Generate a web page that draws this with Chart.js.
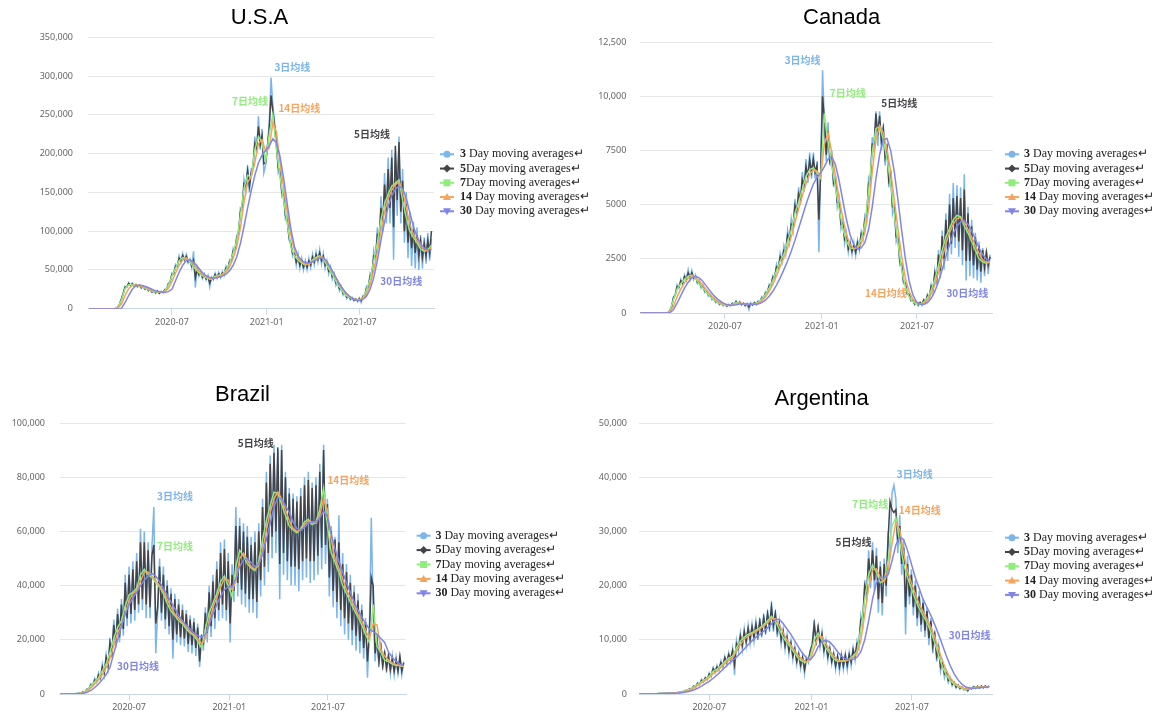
<!DOCTYPE html>
<html>
<head>
<meta charset="utf-8">
<title>Moving averages</title>
<script src="https://cdn.jsdelivr.net/npm/chart.js@4.4.1/dist/chart.umd.min.js"></script>
<style>
  body { margin: 0; background: #fff; width: 1164px; height: 716px; overflow: hidden; position: relative; }
  canvas { position: absolute; }
</style>
</head>
<body>
<canvas id="usa" width="590" height="345" style="left:0;top:0"></canvas>
<canvas id="canada" width="574" height="345" style="left:590px;top:0"></canvas>
<canvas id="brazil" width="590" height="371" style="left:0;top:345px"></canvas>
<canvas id="argentina" width="574" height="371" style="left:590px;top:345px"></canvas>
<script>
// x axis: days counted from 2020-01-22
const xTickDays = [161, 345, 526];
const xTickLabels = ["2020-07", "2021-01", "2021-07"];

const seriesNumbers = ["3", "5", "7", "14", "30"];
const seriesTexts = [" Day moving averages\u21b5", "Day moving averages\u21b5", "Day moving averages\u21b5", " Day moving averages\u21b5", " Day moving averages\u21b5"];
const noteTexts = ["3日均线", "5日均线", "7日均线", "14日均线", "30日均线"];
const seriesColors = ["#7cb5ec", "#434348", "#90ed7d", "#f7a35c", "#8085e9"];

// 3 and 5 day series every 3.5 days, 7/14/30 day series every 7 days
const usaStart = 0;
const usaYTicks = [0, 50000, 100000, 150000, 200000, 250000, 300000, 350000];
const usaYLabels = ["0", "50,000", "100,000", "150,000", "200,000", "250,000", "300,000", "350,000"];
const usaMa3 = [0,0,0,0,0,0,0,0,0,0,0,0,0,0,0,
  500,2500,6500,13000,20000,29000,27500,33500,30000,33000,29000,31500,28000,30500,26500,29000,
  25000,27000,23000,25000,21000,23500,20000,23000,19500,22500,
  20500,25000,24500,33000,34000,46000,44500,57000,54000,68000,
  60000,71000,62000,70000,59000,64000,53000,74000,27000,53000,
  42000,48000,39000,45000,37000,43000,28000,41000,37000,46000,
  39000,47000,40000,48000,43000,55000,50000,63000,60000,78000,
  74000,95000,96000,130000,128000,167000,152000,185000,150000,180000,
  180000,222000,200000,248000,205000,232000,175000,185000,210000,240000,
  298000,262000,240000,215000,175000,180000,145000,150000,115000,118000,
  88000,86000,68000,74000,56000,70000,52000,65000,50000,62000,
  50000,65000,53000,70000,57000,73000,60000,76000,58000,71000,
  52000,62000,45000,54000,38000,45000,30000,35000,23000,28500,
  17500,21000,13000,17000,11500,14500,10000,13000,9000,14000,
  8000,17000,16000,29000,26000,46000,42000,75000,62000,105000,
  78000,145000,100000,175000,110000,195000,110000,205000,63000,200000,
  120000,222000,110000,180000,85000,150000,65000,125000,55000,112000,
  52000,105000,50000,95000,52000,92000,58000,98000,62000,90000];
const usaMa5 = [0,0,0,0,0,0,0,0,0,0,0,0,0,0,0,
  300,2000,6000,12500,19500,27500,28500,32500,30500,32000,29500,31000,28500,30000,27000,28500,
  25500,26500,23500,24500,21500,23000,20500,22500,20000,22000,
  21000,24000,25500,31500,35000,44000,45500,55000,55500,65000,
  62000,68500,63500,67500,60500,62000,55000,62000,40000,51000,
  44000,46000,40500,43000,38500,41000,33000,39500,38500,44000,
  41000,45000,41500,46000,45000,52500,52000,60500,62500,75000,
  77000,91000,100000,125000,133000,161000,158000,178000,158000,175000,
  184000,213000,207000,235000,212000,223000,187000,188000,209000,232000,
  275000,255000,235000,210000,182000,175000,150000,145000,120000,114000,
  92000,83000,71000,71000,60000,66000,56000,62000,53500,59000,
  53500,61500,56500,66500,60500,69500,63500,72000,62000,67500,
  56000,59000,48500,51000,41000,42500,33000,33000,25500,27000,
  19500,19500,15000,16000,12700,13700,11000,12300,10300,13000,
  10500,15500,17500,26500,28500,42000,46000,68000,67000,95000,
  90000,130000,112000,160000,125000,180000,130000,195000,105000,210000,
  140000,215000,125000,165000,100000,135000,85000,112000,78000,102000,
  72000,95000,68000,87000,66000,84000,68000,88000,72000,100000];
const usaMa7 = [0,0,0,0,0,0,0,0,
  2000,11000,26000,31000,31000,30000,29000,27500,25500,23500,
  22000,21500,21000,23000,30000,42000,52000,62000,66000,65000,
  60000,54000,49000,44000,41000,39000,38000,42000,43000,44000,
  50000,58000,72000,88000,120000,155000,172000,170000,205000,222000,
  215000,190000,225000,250000,205000,170000,140000,110000,80000,68000,
  63000,59000,56000,58000,63000,66000,68000,64000,56000,48000,
  40000,31000,25000,18000,15000,13000,11500,12000,14000,24000,
  38000,62000,85000,115000,135000,148000,158000,162000,166000,140000,
  118000,100000,92000,85000,77000,74000,76000,82000];
const usaMa14 = [0,0,0,0,0,0,0,0,
  1000,6000,17000,26000,30000,30500,29500,28000,26500,24500,
  23000,22000,21200,22000,26000,35000,46000,56000,63000,65000,
  62500,57500,51500,46500,42500,40000,38500,40000,42500,43500,
  47000,54000,65000,80000,104000,137000,163000,170000,188000,213000,
  218000,203000,207000,240000,228000,188000,155000,125000,95000,75000,
  65500,61000,57500,57000,60500,64500,67000,66000,60000,52000,
  44000,35500,28000,21500,16500,14000,12300,11700,13000,18500,
  31000,50000,73000,100000,125000,142000,153000,160000,163000,153000,
  130000,109000,96000,88000,81000,75500,75000,78000];
const usaMa30 = [0,0,0,0,0,0,0,0,0,
  500,8000,17000,25000,29500,30500,29500,28000,26000,24000,
  22500,21500,21000,22000,25000,36000,47000,56000,62000,63000,
  60000,55000,49000,44000,41000,39500,39500,40500,42000,44500,
  49000,56000,67000,84000,106000,130000,152000,172000,188000,198000,
  204000,210000,219000,214000,196000,168000,135000,103000,80000,68000,
  62000,59500,59000,60500,63000,65500,65500,61000,53000,44500,
  36000,28500,22000,17000,13500,11000,10500,12000,16000,25000,
  40000,62000,88000,112000,132000,146000,154000,158000,155000,143000,
  124000,106000,93000,84000,78000,76000,76000];

const canStart = 0;
const canYTicks = [0, 2500, 5000, 7500, 10000, 12500];
const canYLabels = ["0", "2500", "5000", "7500", "10,000", "12,500"];
const canMa3 = [0,0,0,0,0,0,0,0,0,0,0,0,0,0,0,
  20,120,300,750,800,1300,1150,1550,1300,1750,1500,2000,1550,1950,1550,1750,
  1350,1500,1150,1300,950,1050,780,850,610,680,
  480,560,380,460,330,400,300,400,330,470,
  400,560,400,520,360,470,320,440,150,470,
  350,500,380,560,480,750,660,980,900,1320,
  1230,1720,1580,2250,2000,2750,2350,3100,2700,3800,
  3250,4350,3800,5250,4500,5800,5000,6500,5600,7100,
  6000,7400,6200,7400,6200,7000,2800,6800,11200,8800,
  7000,8800,6800,7500,5800,6400,4900,5300,3900,4300,
  3200,3700,2800,3300,2700,3250,2650,3350,2900,3750,
  3400,4500,4300,6200,5900,8100,7400,9300,7700,9300,
  7500,8700,6800,7800,5800,6600,4600,5000,3300,3600,
  2200,2300,1350,1400,850,880,550,620,380,500,
  330,500,350,620,450,850,650,1300,950,1950,
  1300,2900,1600,3800,2000,4600,2400,5500,2700,6000,
  3000,5900,2600,5800,2200,6400,1500,4900,1700,4300,
  1600,3700,1500,3300,1400,3000,1700,2900,1800,2700];
const canMa5 = [0,0,0,0,0,0,0,0,0,0,0,0,0,0,0,
  10,90,280,680,850,1220,1200,1480,1370,1680,1580,1850,1650,1850,1620,1680,
  1420,1430,1220,1230,1010,1000,820,800,650,640,
  520,510,420,430,360,380,320,380,350,440,
  420,520,430,490,390,440,350,410,280,430,
  380,470,410,520,520,700,710,910,960,1250,
  1300,1650,1680,2130,2100,2600,2450,2900,2850,3600,
  3400,4100,4050,4950,4700,5500,5250,6150,5850,6750,
  6300,7050,6500,7100,6500,6800,4300,6500,10000,8900,
  7300,8400,7000,7200,6000,6200,5100,5100,4100,4150,
  3400,3550,2950,3200,2850,3100,2800,3250,3000,3650,
  3550,4350,4500,5950,6200,7800,7800,9200,8200,9100,
  7900,8500,7200,7600,6100,6400,4900,4850,3500,3450,
  2350,2200,1450,1350,900,850,600,600,420,480,
  380,480,400,600,520,820,750,1230,1100,1850,
  1550,2700,1950,3550,2500,4300,2900,5000,3200,5300,
  3500,5400,3300,5300,2900,5700,2400,4600,2400,4000,
  2200,3500,2000,3100,1900,2900,2100,2800,2200,2600];
const canMa7 = [0,0,0,0,0,0,0,0,
  80,600,1100,1350,1550,1700,1750,1600,1350,1150,
  950,750,600,480,400,350,350,400,480,450,
  400,380,400,430,480,650,850,1150,1500,1950,
  2400,2700,3300,3800,4600,5100,5700,6300,6600,6700,
  6450,6200,9200,7900,6800,5800,4800,3900,3300,3000,
  2950,3050,3400,4100,5600,7400,8500,8600,8000,7100,
  6000,4500,3200,2000,1200,750,520,420,420,500,
  700,1050,1550,2200,2900,3500,3900,4300,4500,4450,
  4000,3700,3300,2900,2500,2350,2300,2350];
const canMa14 = [0,0,0,0,0,0,0,0,
  30,300,750,1100,1400,1600,1700,1650,1480,1280,
  1050,850,680,550,450,380,350,370,430,460,
  430,400,395,410,450,560,740,1000,1320,1720,
  2150,2550,3000,3500,4150,4800,5400,5950,6400,6600,
  6550,6300,7800,8300,7400,6300,5300,4400,3600,3150,
  2970,3000,3200,3700,4800,6500,8000,8650,8300,7550,
  6550,5200,3850,2600,1600,1000,640,480,430,460,
  600,880,1300,1880,2550,3200,3700,4100,4350,4400,
  4200,3850,3500,3100,2750,2450,2350,2350];
const canMa30 = [0,0,0,0,0,0,0,0,
  10,150,450,800,1150,1420,1620,1690,1620,1450,
  1230,1000,800,640,510,420,370,360,380,410,
  420,410,400,400,420,480,590,770,1000,1290,
  1620,2000,2400,2850,3350,3900,4450,5000,5500,5950,
  6250,6450,6750,7100,7200,6850,6100,5200,4300,3600,
  3150,2950,3000,3250,3850,4900,6200,7300,8000,8050,
  7500,6500,5200,3800,2500,1500,850,520,400,400,
  480,680,1000,1450,2000,2600,3150,3650,4000,4200,
  4250,4100,3800,3400,3000,2700,2500,2400];

const braStart = 35;
const braYTicks = [0, 20000, 40000, 60000, 80000, 100000];
const braYLabels = ["0", "20,000", "40,000", "60,000", "80,000", "100,000"];
const braMa3 = [0,0,0,10,30,20,70,50,140,120,
  330,330,900,850,1900,1800,3800,3000,5800,4200,
  7800,5500,11000,7000,14500,9500,20500,13500,27500,17000,
  31500,19000,35000,21500,44000,25000,47000,26000,49000,27000,
  52000,30000,61000,31000,60000,28000,56000,28000,54000,69000,
  15000,30000,50000,27000,47000,24000,42000,22000,39000,13000,
  37000,19000,35000,18000,33000,17500,31000,15500,29000,15000,
  28000,14000,26000,10000,22000,16000,32000,19000,40000,21000,
  44000,24000,49000,27000,56000,28000,57000,27000,52000,19000,
  48000,34000,69000,36000,65000,33000,63000,32000,62000,30000,
  58000,30000,60000,28000,63000,36000,72000,40000,82000,45000,
  88000,50000,92000,52000,90000,35000,92000,44000,82000,42000,
  76000,40000,74000,40000,73000,38000,76000,42000,80000,43000,
  82000,41000,78000,42000,80000,44000,85000,46000,92000,48000,
  72000,36000,62000,32000,58000,28000,66000,25000,52000,22000,
  48000,20000,44000,18000,40000,16000,37000,15000,33000,13000,
  28000,6000,24000,65000,30000,12000,22000,10000,19000,9000,
  16000,8000,15000,7500,14000,7000,13500,7500,13000,7000,
  12000];
const braMa5 = [0,0,0,5,25,30,60,60,120,140,
  300,380,800,950,1700,2000,3400,3300,5200,4600,
  7000,6000,10000,7800,13500,10500,19000,15000,25500,19000,
  29500,21000,33000,24000,41000,28000,44000,29500,46000,31000,
  49000,33000,56000,35000,56000,33000,53000,32000,51000,55000,
  26000,32000,47000,30000,44000,27500,40000,25000,37000,20000,
  35000,22000,33000,21000,31000,20500,29500,18500,27500,18000,
  26500,17000,24500,12000,21000,19000,30000,22500,37500,25000,
  41500,28000,46000,31000,52000,33000,53500,31000,49000,26000,
  44000,38000,62000,41000,62000,38500,60000,37000,58000,35000,
  55000,35000,56000,34000,60000,42000,69000,47000,78000,52000,
  85000,58000,89000,60000,91000,48000,90000,52000,80000,49000,
  74000,47000,72000,47000,71000,46000,73000,49000,77000,50000,
  79000,49000,76000,49000,77000,51000,82000,54000,90000,55000,
  70000,43000,60000,38000,57000,34000,56000,31000,48000,28000,
  45000,26000,41000,23500,37500,21500,34500,19500,31000,17000,
  26500,12000,22000,43000,40000,15000,20000,12000,17500,10500,
  15000,9500,14000,9000,13000,8500,12500,8500,14000,8500,
  11500];
const braMa7 = [0,0,20,50,100,250,700,1500,3000,4500,
  6000,8500,11000,15500,20500,24500,27000,32500,36500,37500,
  39000,44000,46000,44000,43000,41000,39500,37000,33500,30500,
  29000,27000,26000,24000,22500,21500,19500,17000,24000,30000,
  33500,37000,41500,43500,40000,36000,47000,53000,51000,48000,
  46500,45500,49000,57000,64000,69500,74500,74000,70000,66000,
  62000,60500,59500,61000,63500,64500,62500,63500,68000,76000,
  62000,52000,48500,45000,40000,37000,34000,31000,28500,25500,
  22000,19000,33000,17500,15500,12500,12000,11000,10500,10500,
  10000];
const braMa14 = [0,0,10,30,70,170,450,1100,2200,3700,
  5200,7200,9700,13000,18000,22500,25500,29500,34500,37000,
  38000,41500,45000,45000,43500,42000,40000,38000,35000,32000,
  29500,28000,26500,25000,23000,22000,20500,18500,20500,27000,
  32000,35500,39500,42500,42000,38500,41500,50000,52000,49500,
  47000,46000,47500,53000,60500,67000,72000,74500,72000,68000,
  64000,61000,60000,60500,62500,64000,63500,63000,66000,72000,
  68000,57000,50000,46500,42500,38500,35500,32500,29500,27000,
  23500,20500,26000,25500,16500,14000,12500,11500,10800,10500,
  10200];
const braMa30 = [0,0,0,0,50,100,250,600,1300,2400,
  3700,5300,7200,9800,15000,20000,25000,29500,33000,35500,
  37500,40000,42000,43500,44500,43500,41500,39000,36500,34000,
  31500,29000,27000,25500,24000,22500,21500,21000,22000,25500,
  29500,33000,36000,38500,39500,39500,42500,47000,49500,50000,
  48500,47000,48000,51500,57000,63000,69000,72500,72000,69500,
  67000,63500,61000,60500,61500,63000,63500,63500,65000,67500,
  65500,59000,53500,49000,45000,41000,37500,34000,31000,28500,
  26000,24000,23000,22000,20500,19000,15500,13500,12000,11000,
  10500];

const argStart = 35;
const argYTicks = [0, 10000, 20000, 30000, 40000, 50000];
const argYLabels = ["0", "10,000", "20,000", "30,000", "40,000", "50,000"];
const argMa3 = [0,0,0,5,10,15,25,20,60,50,
  90,80,110,100,140,130,160,150,220,190,
  280,280,450,450,700,650,1000,950,1500,1300,
  2100,1700,2700,2200,3100,2600,3900,3200,4900,3900,
  5300,4300,6100,4800,6900,5400,7600,5900,8300,3500,
  9800,7800,11200,8200,12000,8900,12600,9300,12900,9700,
  13400,10000,14000,10500,14700,11000,15500,11500,17000,11500,
  15500,10500,13500,9200,12000,8200,10900,7300,9800,6300,
  8700,5400,7600,4700,7000,3700,6700,5800,8200,9000,
  13700,9000,12800,8700,11500,7400,9800,6200,8700,5500,
  7600,4500,7200,4200,7300,4500,7400,4500,7600,5200,
  8500,6200,9800,8500,14500,12800,21000,17000,26500,19500,
  28000,19000,27000,15000,24500,14500,25000,18000,30000,25000,
  37000,38500,36000,26000,33000,22000,28500,11000,25500,16500,
  23000,14500,21000,12500,19000,11500,17500,10500,16000,9000,
  14000,7500,11500,6000,8800,4200,6000,3000,4200,2100,
  3000,1500,2200,1100,1700,900,1300,750,1000,500,
  1200,900,1400,1000,1450,1050,1500,1100,1500,1150,
  1500];
const argMa5 = [0,0,0,3,8,12,22,25,55,60,
  85,85,105,105,135,135,155,155,210,200,
  265,290,430,470,670,700,960,1000,1420,1400,
  1950,1850,2550,2350,2950,2800,3700,3500,4650,4200,
  5000,4700,5800,5300,6700,5900,7300,6500,8000,5500,
  9300,8500,10700,9000,11500,9700,12100,10100,12400,10500,
  12900,10800,13400,11300,14100,11800,14800,12500,16000,12600,
  14800,11500,13000,10000,11500,8900,10400,8000,9400,7000,
  8300,6000,7300,5300,6700,4500,6400,6300,7900,9200,
  12800,9800,12300,9300,11000,8100,9400,6900,8300,6000,
  7300,5200,6900,5000,7000,5200,7100,5300,7300,5900,
  8200,6900,9300,9500,13800,14200,20000,18800,25000,21000,
  26500,21000,25500,17500,23500,16800,24000,20000,28500,35500,
  34000,33500,34000,28000,31000,24000,27000,16000,24000,18000,
  22000,16000,20000,14000,18000,12800,16800,11700,15300,10300,
  13500,8800,11000,7000,8500,5000,5900,3700,4100,2500,
  2900,1800,2100,1300,1600,1050,1250,850,950,650,
  1100,1000,1350,1100,1400,1150,1450,1200,1450,1250,
  1450];
const argMa7 = [0,0,10,20,50,80,100,130,150,200,
  250,400,600,900,1300,1800,2300,2700,3300,4200,
  4600,5200,6000,6600,7000,8500,9800,10500,11000,11300,
  11800,12200,12800,13500,14300,13500,12000,10500,9500,8500,
  7500,6500,6000,5800,7000,10000,11200,10000,8500,7500,
  6500,6000,6100,6200,6400,7000,7800,12000,17500,22000,
  23800,22500,20500,21000,24500,31000,32500,28000,24000,21500,
  19500,17500,15800,14500,13200,11500,9500,7200,5000,3500,
  2500,1800,1400,1100,700,1100,1200,1250,1300,1300,
  1350];
const argMa14 = [0,0,5,15,35,65,90,115,140,175,
  225,320,500,750,1100,1550,2050,2500,3000,3750,
  4200,4900,5600,6200,6700,7900,9100,10100,10700,11100,
  11500,12000,12500,13100,13900,13900,12800,11300,10000,9000,
  8000,7000,6300,5900,6400,8500,10600,10600,9300,8000,
  7000,6300,6000,6100,6300,6700,7400,9900,14700,19700,
  22900,23100,21500,20700,22700,27700,31700,30300,26000,22700,
  20500,18500,16600,15200,13800,12300,10500,8300,6100,4300,
  3000,2100,1600,1250,900,950,1150,1250,1300,1300,
  1320];
const argMa30 = [0,0,3,8,20,45,70,95,120,150,
  190,250,350,520,750,1050,1450,1900,2350,2900,
  3500,4200,4900,5600,6200,6800,7500,8300,9100,9800,
  10500,11000,11600,12200,12900,13700,13800,13000,12000,11000,
  9800,8600,7500,6700,6300,7200,8700,9700,9900,9600,
  8800,7800,7000,6500,6300,6400,6800,7800,10000,13500,
  17500,20500,21500,21500,22000,24500,27500,29000,28500,26500,
  24000,21500,19500,17500,16000,14500,12800,11000,9000,7000,
  5200,3700,2600,1800,1300,1100,1050,1100,1200,1250,
  1300];

function points(start, step, values) {
  return values.map(function (v, i) {
    return { x: start + i * step, y: v };
  });
}

// titles, series notes and the legend
const overlay = {
  id: "overlay",
  afterDraw(chart, args, o) {
    const ctx = chart.ctx;
    const xs = chart.scales.x;
    const ys = chart.scales.y;
    ctx.save();
    ctx.textAlign = "center";
    ctx.textBaseline = "middle";
    ctx.fillStyle = "#000";
    ctx.font = '22px "Liberation Sans", Arial, sans-serif';
    ctx.fillText(o.title, o.titleX, o.titleY);

    ctx.font = 'bold 10px "Noto Sans CJK SC", sans-serif';
    o.notes.forEach(function (n) {
      ctx.fillStyle = seriesColors[n.s];
      ctx.fillText(noteTexts[n.s], xs.getPixelForValue(n.day), ys.getPixelForValue(n.value));
    });

    ctx.textAlign = "left";
    seriesColors.forEach(function (c, j) {
      const y = o.legendY + j * o.legendGap;
      const cx = o.legendX + 7;
      ctx.strokeStyle = c;
      ctx.fillStyle = c;
      ctx.lineWidth = 2;
      ctx.beginPath();
      ctx.moveTo(o.legendX, y);
      ctx.lineTo(o.legendX + 14, y);
      ctx.stroke();
      ctx.beginPath();
      if (j === 0) {
        ctx.arc(cx, y, 3.5, 0, Math.PI * 2);
      } else if (j === 1) {
        ctx.moveTo(cx, y - 4); ctx.lineTo(cx + 4, y); ctx.lineTo(cx, y + 4); ctx.lineTo(cx - 4, y);
      } else if (j === 2) {
        ctx.rect(cx - 3.5, y - 3.5, 7, 7);
      } else if (j === 3) {
        ctx.moveTo(cx, y - 4); ctx.lineTo(cx + 4, y + 3); ctx.lineTo(cx - 4, y + 3);
      } else {
        ctx.moveTo(cx, y + 4); ctx.lineTo(cx + 4, y - 3); ctx.lineTo(cx - 4, y - 3);
      }
      ctx.closePath();
      ctx.fill();

      ctx.fillStyle = "#222";
      ctx.font = 'bold 12px "Liberation Serif", serif';
      ctx.fillText(seriesNumbers[j], o.textX, y);
      const w = ctx.measureText(seriesNumbers[j]).width;
      ctx.font = '12px "Liberation Serif", serif';
      ctx.fillText(seriesTexts[j], o.textX + w, y);
    });
    ctx.restore();
  }
};

function drawPanel(id, p) {
  const sets = [
    points(p.start, 3.5, p.ma3),
    points(p.start, 3.5, p.ma5),
    points(p.start, 7, p.ma7),
    points(p.start, 7, p.ma14),
    points(p.start, 7, p.ma30)
  ];
  const tickFont = { family: '"Noto Sans", "DejaVu Sans", sans-serif', size: 9 };
  new Chart(document.getElementById(id), {
    type: "line",
    data: {
      datasets: sets.map(function (pts, j) {
        return {
          label: seriesNumbers[j] + seriesTexts[j],
          data: pts,
          borderColor: seriesColors[j],
          backgroundColor: seriesColors[j],
          borderWidth: 1.5,
          pointRadius: 0,
          tension: 0,
          order: 5 - j
        };
      })
    },
    options: {
      responsive: false,
      animation: false,
      devicePixelRatio: 1,
      parsing: false,
      layout: { padding: { left: 0, right: p.padRight, top: p.padTop, bottom: 0 } },
      plugins: {
        legend: { display: false },
        tooltip: { enabled: false },
        overlay: p.overlay
      },
      scales: {
        x: {
          type: "linear",
          min: p.xMin,
          max: p.xMax,
          afterBuildTicks: function (s) {
            s.ticks = xTickDays.map(function (v) { return { value: v }; });
          },
          afterFit: function (s) { s.height = p.xHeight; },
          ticks: {
            autoSkip: false,
            maxRotation: 0,
            padding: 2,
            color: "#666",
            font: tickFont,
            callback: function (v) { return xTickLabels[xTickDays.indexOf(v)]; }
          },
          grid: { drawOnChartArea: false, drawTicks: true, tickLength: 6, color: "#ccd6eb" },
          border: { display: true, color: "#ccd6eb", width: 1 }
        },
        y: {
          min: 0,
          max: p.yTicks[p.yTicks.length - 1],
          afterBuildTicks: function (s) {
            s.ticks = p.yTicks.map(function (v) { return { value: v }; });
          },
          afterFit: function (s) { s.width = p.yWidth; },
          ticks: {
            padding: p.yPad,
            color: "#666",
            font: tickFont,
            callback: function (v) { return p.yLabels[p.yTicks.indexOf(v)]; }
          },
          grid: { color: "#e6e6e6", drawTicks: false },
          border: { display: false }
        }
      }
    },
    plugins: [overlay]
  });
}

drawPanel("usa", {
  start: usaStart, ma3: usaMa3, ma5: usaMa5, ma7: usaMa7, ma14: usaMa14, ma30: usaMa30,
  yTicks: usaYTicks, yLabels: usaYLabels,
  xMin: -2, xMax: 670, padRight: 156, padTop: 37.3, xHeight: 36.3, yWidth: 88, yPad: 15,
  overlay: {
    title: "U.S.A", titleX: 259.5, titleY: 18.3,
    legendX: 440, textX: 460, legendY: 154.3, legendGap: 14.25,
    notes: [
      { s: 0, day: 395, value: 312000 },
      { s: 2, day: 312.6, value: 268000 },
      { s: 3, day: 408.4, value: 259000 },
      { s: 1, day: 549.5, value: 225000 },
      { s: 4, day: 606.4, value: 35300 }
    ]
  }
});

drawPanel("canada", {
  start: canStart, ma3: canMa3, ma5: canMa5, ma7: canMa7, ma14: canMa14, ma30: canMa30,
  yTicks: canYTicks, yLabels: canYLabels,
  xMin: 0, xMax: 670, padRight: 171.3, padTop: 42, xHeight: 32, yWidth: 50.3, yPad: 14,
  overlay: {
    title: "Canada", titleX: 251.6, titleY: 18.3,
    legendX: 415, textX: 434, legendY: 154.3, legendGap: 14.25,
    notes: [
      { s: 0, day: 308.7, value: 11664 },
      { s: 2, day: 394.3, value: 10128 },
      { s: 1, day: 492.4, value: 9695 },
      { s: 3, day: 467, value: 936 },
      { s: 4, day: 621.7, value: 908 }
    ]
  }
});

drawPanel("brazil", {
  start: braStart, ma3: braMa3, ma5: braMa5, ma7: braMa7, ma14: braMa14, ma30: braMa30,
  yTicks: braYTicks, yLabels: braYLabels,
  xMin: 33.4, xMax: 669.2, padRight: 184, padTop: 78, xHeight: 22, yWidth: 59.5, yPad: 14.5,
  overlay: {
    title: "Brazil", titleX: 242.5, titleY: 50,
    legendX: 416.6, textX: 435.4, legendY: 190.7, legendGap: 14.4,
    notes: [
      { s: 1, day: 393.4, value: 92600 },
      { s: 3, day: 563.3, value: 79000 },
      { s: 0, day: 245.3, value: 73000 },
      { s: 2, day: 245.3, value: 54700 },
      { s: 4, day: 177.4, value: 10200 }
    ]
  }
});

drawPanel("argentina", {
  start: argStart, ma3: argMa3, ma5: argMa5, ma7: argMa7, ma14: argMa14, ma30: argMa30,
  yTicks: argYTicks, yLabels: argYLabels,
  xMin: 35, xMax: 671.4, padRight: 171.3, padTop: 78, xHeight: 22, yWidth: 49.3, yPad: 12.3,
  overlay: {
    title: "Argentina", titleX: 231.7, titleY: 54.3,
    legendX: 415, textX: 434, legendY: 192.7, legendGap: 14.3,
    notes: [
      { s: 0, day: 530.9, value: 40500 },
      { s: 2, day: 451, value: 35100 },
      { s: 3, day: 540, value: 33900 },
      { s: 1, day: 420.7, value: 28000 },
      { s: 4, day: 630, value: 10800 }
    ]
  }
});
</script>
</body>
</html>
